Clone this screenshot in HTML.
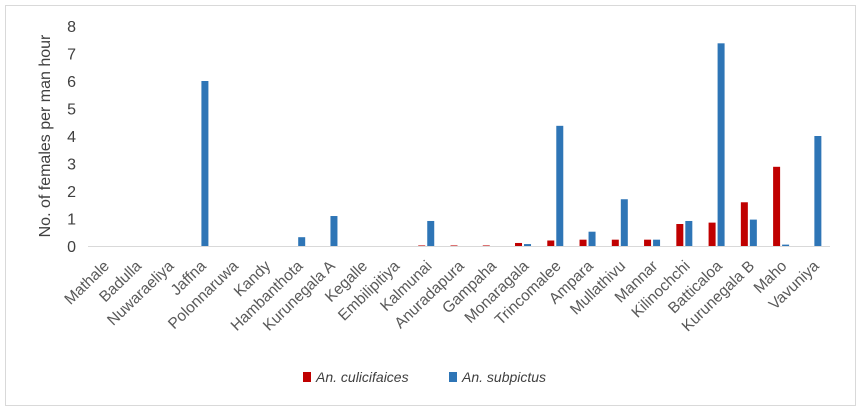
<!DOCTYPE html>
<html><head><meta charset="utf-8"><style>
body{margin:0;background:#fff;width:861px;height:414px;overflow:hidden;font-family:"Liberation Sans",sans-serif}
</style></head><body>
<svg width="861" height="414">
<rect x="5.5" y="5.5" width="850" height="400" fill="#fff" stroke="#d9d9d9"/>
<g id="yax"></g><g id="bars"></g><g id="xl"></g>
<text transform="translate(50,136) rotate(-90)" text-anchor="middle" font-size="16" fill="#404040">No. of females per man hour</text>
<g>
<rect x="303" y="372" width="8" height="10" fill="#c00000"/>
<text x="316" y="382" font-size="14" font-style="italic" fill="#404040">An. culicifaices</text>
<rect x="449" y="372" width="8" height="10" fill="#2e75b6"/>
<text x="462" y="382" font-size="14" font-style="italic" fill="#404040">An. subpictus</text>
</g>
</svg>
<script>
const categories=["Mathale","Badulla","Nuwaraeliya","Jaffna","Polonnaruwa","Kandy","Hambanthota","Kurunegala A","Kegalle","Embilipitiya","Kalmunai","Anuradapura","Gampaha","Monaragala","Trincomalee","Ampara","Mullathivu","Mannar","Kilinochchi","Batticaloa","Kurunegala B","Maho","Vavuniya"];
const culicifacies=[0,0,0,0,0,0,0,0,0,0,0.02,0.02,0.02,0.11,0.2,0.23,0.23,0.23,0.8,0.85,1.59,2.88,0];
const subpictus=[0,0,0,6.0,0,0,0.32,1.09,0,0,0.91,0,0,0.07,4.37,0.52,1.7,0.23,0.91,7.37,0.96,0.05,4.0];
const yTicks=[0,1,2,3,4,5,6,7,8];
const NS="http://www.w3.org/2000/svg";
const X0=88,X1=830,Y0=246,YT=26;
const step=(X1-X0)/categories.length;
const xc=i=>X0+step*(i+0.5);
const y=v=>Y0-(Y0-YT)*v/8;
function mk(t,a,p){const e=document.createElementNS(NS,t);for(const k in a)e.setAttribute(k,a[k]);p.appendChild(e);return e;}
const yax=document.getElementById('yax');
yTicks.forEach(t=>{const e=mk('text',{x:76,y:y(t)+6,'text-anchor':'end','font-size':16,fill:'#404040'},yax);e.textContent=t;

});
const ax=mk('line',{x1:X0,x2:X1,y1:Y0+0.5,y2:Y0+0.5,stroke:'#d9d9d9'},yax);


const bars=document.getElementById('bars'),xl=document.getElementById('xl');
categories.forEach((c,i)=>{
 const cx=xc(i);
 [[culicifacies[i],'#c00000',-8,'culicifacies'],[subpictus[i],'#2e75b6',1,'subpictus']].forEach(([v,col,off,n])=>{
  if(v>0){const r=mk('rect',{x:cx+off-0.5,y:y(v),width:7,height:Y0-y(v),fill:col},bars);
  
  }
 });
 const t=mk('text',{transform:`translate(${cx+6},${Y0+21}) rotate(-44)`,'text-anchor':'end','font-size':15.5,fill:'#595959'},xl);
 t.textContent=c;
 
 
});
</script>
</body></html>
